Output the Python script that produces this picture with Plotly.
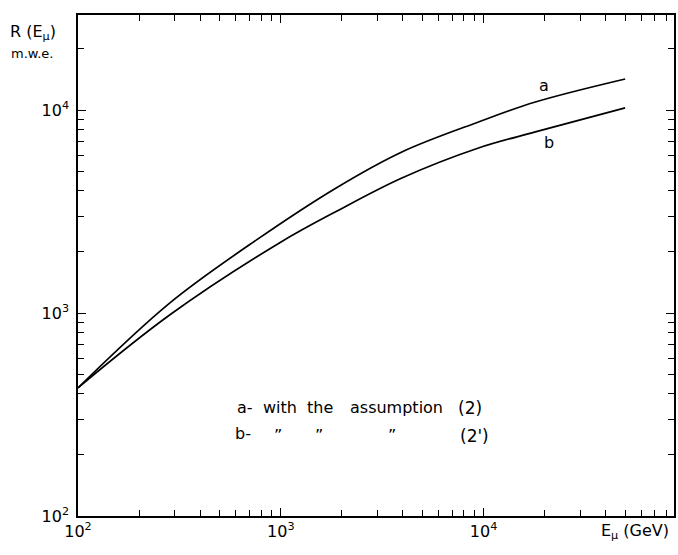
import plotly.graph_objects as go

# Muon energy (GeV) and range R(E_mu) in m.w.e.
E_a = [100, 283, 759, 1875, 3954, 9440, 18000, 49900]
R_a = [428, 1119, 2291, 4131, 6213, 8730, 10950, 14220]
E_b = [100, 283, 984, 1875, 3954, 9440, 18000, 49900]
R_b = [428, 977, 2213, 3162, 4624, 6500, 7800, 10240]

decades_x = [100, 1000, 10000]
decade_labels_x = ["10<sup>2</sup>", "10<sup>3</sup>", "10<sup>4</sup>"]
decades_y = [100, 1000, 10000]
decade_labels_y = ["10<sup>2</sup>", "10<sup>3</sup>", "10<sup>4</sup>"]
minor_x = [m * 10 ** e for e in (2, 3, 4) for m in range(2, 10)]
minor_y = [m * 10 ** e for e in (2, 3) for m in range(2, 10)] + [20000]

FONT = "DejaVu Sans"
fig = go.Figure()
fig.add_trace(go.Scatter(x=E_a, y=R_a, mode="lines",
                         line=dict(color="black", width=1.7, shape="spline", smoothing=1.0), showlegend=False))
fig.add_trace(go.Scatter(x=E_b, y=R_b, mode="lines",
                         line=dict(color="black", width=1.7, shape="spline", smoothing=1.0), showlegend=False))

axis_common = dict(type="log", showgrid=False, zeroline=False, showline=True, linecolor="black",
                   linewidth=1.5, mirror="ticks", ticks="inside", ticklen=8, tickcolor="black",
                   tickwidth=1.2, tickfont=dict(family=FONT, size=16, color="black"))
fig.update_xaxes(range=[2, 4.939], tickmode="array", tickvals=decades_x, ticktext=decade_labels_x,
                 ticklabelstandoff=0,
                 minor=dict(tickmode="array", tickvals=minor_x, ticks="inside", ticklen=6,
                            tickcolor="black", tickwidth=1.2, showgrid=False),
                 **axis_common)
fig.update_yaxes(range=[2, 4.468], tickmode="array", tickvals=decades_y, ticktext=decade_labels_y,
                 ticklabelstandoff=4,
                 minor=dict(tickmode="array", tickvals=minor_y, ticks="inside", ticklen=6,
                            tickcolor="black", tickwidth=1.2, showgrid=False),
                 **axis_common)

W, H = 678, 555
L, R_, T, B = 78, 676, 15, 516
def px(xp): return (xp - L) / (R_ - L)
def py(yp): return (B - yp) / (B - T)

ann = []
def add(text, x, y, xanchor="left", size=16):
    ann.append(dict(text=text, x=px(x), y=py(y), xref="paper", yref="paper", xanchor=xanchor,
                    yanchor="middle", showarrow=False, font=dict(family=FONT, size=size, color="black")))

add("a", 546, 86, xanchor="center", size=16)
add("b", 551, 142, xanchor="center", size=16)
add("a-", 236, 407)
add("with", 262, 407)
add("the", 306, 407)
add("assumption", 349, 407)
add("(2)", 457, 408, size=17)
add("b-", 234, 433)
add("\u201d", 273, 435)
add("\u201d", 314, 435)
add("\u201d", 387, 435)
add("(2')", 459, 436, size=17)
add("E<sub>\u03bc</sub> (GeV)", 673, 531, xanchor="right", size=16)
add("R (E<sub>\u03bc</sub>)", 8, 32, size=16)
add("m.w.e.", 9, 53, size=13)
fig.update_layout(annotations=ann)

fig.update_layout(width=W, height=H, margin=dict(l=L, r=W - R_, t=T, b=H - B),
                  paper_bgcolor="white", plot_bgcolor="white")
fig.write_html("out.html")
